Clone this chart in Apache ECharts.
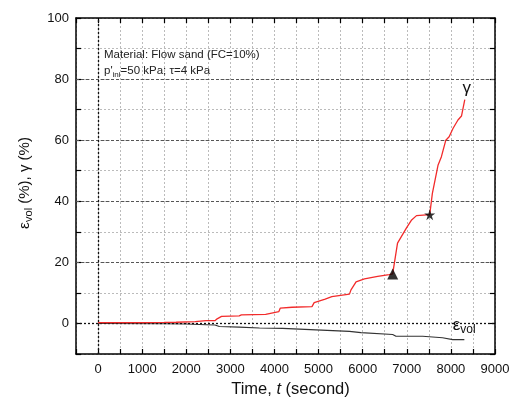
<!DOCTYPE html>
<html>
<head>
<meta charset="utf-8">
<script src="https://cdn.jsdelivr.net/npm/echarts@6/dist/echarts.min.js"></script>
<style>
  html, body { margin: 0; padding: 0; background: #fff; }
  #chart { width: 510px; height: 401px; }
</style>
</head>
<body>
<div id="chart"></div>
<script>
// Shear strain gamma (%) against time (s)
const gammaData = [
  [0,0.3],[500,0.3],[1000,0.3],[1500,0.35],[1770,0.4],[1800,0.5],[2200,0.6],[2450,0.9],
  [2650,0.9],[2700,1.5],[2800,2.3],[3200,2.5],[3250,2.8],[3800,3.0],[3820,3.5],[4100,3.9],
  [4130,5.0],[4400,5.3],[4850,5.5],[4900,6.8],[5150,8.0],[5300,8.8],[5700,9.6],[5735,11.0],
  [5850,13.6],[6040,14.6],[6340,15.4],[6600,16.0],[6680,16.2],[6790,26.3],[6990,31.2],
  [7110,33.9],[7220,35.3],[7520,35.6],[7580,42.6],[7710,51.9],[7785,54.6],[7885,60.0],
  [7960,61.1],[8050,63.9],[8160,66.6],[8240,67.9],[8315,73.3]
];
// Volumetric strain eps_vol (%) against time (s)
const epsData = [
  [0,0],[1500,-0.1],[2000,-0.2],[2450,-0.4],[2650,-0.5],[2750,-1.0],[3200,-1.2],[3660,-1.5],
  [4185,-1.6],[4940,-2.1],[5700,-2.6],[5960,-3.0],[6680,-3.6],[6755,-4.2],[7360,-4.2],
  [7810,-4.7],[8040,-5.3],[8305,-5.3]
];
// Key points on the gamma curve
const trianglePoint = [6680, 16.2];
const starPoint = [7520, 35.6];
// Axis settings
const xMin = -500, xMax = 9000, xStep = 500;
const yMin = -10, yMax = 100, yStep = 10;
const yMajorLines = [20, 40, 60, 80];
const zeroLines = { x: 0, y: 0 };

const FONT = 'Liberation Sans, Arial, sans-serif';
const starPath = 'path://M50,0 L61.8,36.2 L100,36.2 L69.1,58.8 L80.9,95.1 L50,72.6 L19.1,95.1 L30.9,58.8 L0,36.2 L38.2,36.2 Z';

const chart = echarts.init(document.getElementById('chart'));

const baseX = {
  type: 'value', min: xMin, max: xMax, interval: xStep,
  axisLine: { show: true, onZero: false, lineStyle: { color: '#000', width: 1.5 } },
  axisTick: { show: true, inside: true, length: 5, lineStyle: { color: '#000', width: 1.2 } },
  splitLine: { show: false }
};
const baseY = {
  type: 'value', min: yMin, max: yMax, interval: yStep,
  axisLine: { show: true, onZero: false, lineStyle: { color: '#000', width: 1.5 } },
  axisTick: { show: true, inside: true, length: 5, lineStyle: { color: '#000', width: 1.2 } },
  splitLine: { show: false }
};

chart.setOption({
  animation: false,
  backgroundColor: '#fff',
  title: {
    left: 99, top: 42,
    text: '{a|Material: Flow sand (FC=10%)}\n{a|p\'}{s|ini}{a|=50 kPa; τ=4 kPa}',
    textStyle: {
      fontWeight: 'normal',
      rich: {
        a: { fontFamily: FONT, fontSize: 11.5, fontWeight: 'normal', color: '#222', lineHeight: 16 },
        s: { fontFamily: FONT, fontSize: 8, fontWeight: 'normal', color: '#222', verticalAlign: 'bottom', padding: [8, 0, 0, 0], lineHeight: 16 }
      }
    }
  },
  grid: { left: 76, right: 15, top: 18, bottom: 47, containLabel: false, outerBoundsMode: 'none' },
  xAxis: [
    Object.assign({}, baseX, {
      position: 'bottom',
      axisLabel: {
        fontFamily: FONT, fontSize: 13, color: '#111', margin: 9,
        formatter: v => (v % 1000 === 0 ? String(v) : '')
      },
      splitLine: { show: true, lineStyle: { color: '#bbb', type: [2, 2], width: 1 } },
      name: '{n|Time, }{i|t}{n| (second)}',
      nameLocation: 'middle', nameGap: 26,
      nameTextStyle: {
        padding: [0, 0, 0, 10],
        rich: {
          n: { fontFamily: FONT, fontSize: 16.5, color: '#111' },
          i: { fontFamily: FONT, fontSize: 16.5, color: '#111', fontStyle: 'italic' }
        }
      }
    }),
    Object.assign({}, baseX, { position: 'top', axisLabel: { show: false } })
  ],
  yAxis: [
    Object.assign({}, baseY, {
      position: 'left',
      axisLabel: {
        fontFamily: FONT, fontSize: 13, color: '#111', margin: 7,
        formatter: v => (v % 20 === 0 && v >= 0 ? String(v) : '')
      },
      splitLine: { show: true, lineStyle: { color: '#bbb', type: [2, 2], width: 1 } },
      name: '{e|ε}{s|vol}{n| (%), γ (%)}',
      nameLocation: 'middle', nameRotate: 90, nameGap: 42,
      nameTextStyle: {
        padding: [0, 0, 0, 6],
        rich: {
          e: { fontFamily: FONT, fontSize: 15.5, color: '#111' },
          s: { fontFamily: FONT, fontSize: 11, color: '#111', verticalAlign: 'bottom', padding: [8, 0, 0, 0] },
          n: { fontFamily: FONT, fontSize: 15, color: '#111' }
        }
      }
    }),
    Object.assign({}, baseY, { position: 'right', axisLabel: { show: false } })
  ],
  series: [
    {
      name: 'gamma', type: 'line', data: gammaData, showSymbol: false, z: 5,
      lineStyle: { color: '#f22b2b', width: 1.3 },
      markLine: {
        silent: true, symbol: 'none', label: { show: false },
        lineStyle: { color: '#555', type: [3, 2], width: 1 },
        data: yMajorLines.map(v => ({ yAxis: v }))
      },
      markPoint: {
        silent: true, symbol: 'circle', symbolSize: 0,
        label: {
          show: true, position: 'inside', formatter: 'γ',
          fontFamily: FONT, fontSize: 17, color: '#111'
        },
        data: [{ coord: [8360, 77.0] }]
      }
    },
    {
      name: 'eps', type: 'line', data: epsData, showSymbol: false, z: 4,
      lineStyle: { color: '#333', width: 1.1 },
      markLine: {
        silent: true, symbol: 'none', label: { show: false },
        lineStyle: { color: '#111', type: [2, 2], width: 1.3 },
        data: [{ xAxis: zeroLines.x }, { yAxis: zeroLines.y }]
      },
      markPoint: {
        silent: true, symbol: 'circle', symbolSize: 0,
        label: {
          show: true, position: 'inside',
          formatter: '{e|ε}{s|vol}',
          rich: {
            e: { fontFamily: FONT, fontSize: 17, color: '#111' },
            s: { fontFamily: FONT, fontSize: 12, color: '#111', verticalAlign: 'bottom', padding: [9, 0, 0, 0] }
          }
        },
        data: [{ coord: [8300, -0.5] }]
      }
    },
    {
      name: 'triangle', type: 'scatter', data: [trianglePoint], z: 6,
      symbol: 'triangle', symbolSize: 11, itemStyle: { color: '#000' }
    },
    {
      name: 'star', type: 'scatter', data: [starPoint], z: 6,
      symbol: starPath, symbolSize: 11, itemStyle: { color: '#000' }
    }
  ]
});
</script>
</body>
</html>
